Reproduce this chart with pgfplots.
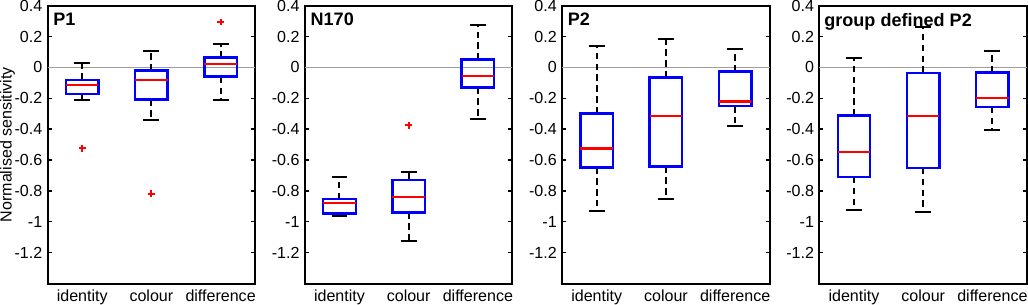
\documentclass[border=0pt]{standalone}
\usepackage{fontspec}
\setmainfont{Liberation Sans}
\usepackage{pgfplots}
\pgfplotsset{compat=1.18}
\usepgfplotslibrary{statistics}

\tikzset{ptitle/.style={anchor=north west, inner sep=0pt, font=\fontsize{9}{10}\bfseries\selectfont}}
\pgfplotsset{
  panel/.style={
    scale only axis, width=103.5pt, height=138.5pt,
    boxplot/draw direction=y,
    xmin=0.5, xmax=3.5, ymin=-1.4, ymax=0.4,
    xtick={1,2,3}, xticklabels={identity,colour,difference},
    ytick={-1.2,-1,-0.8,-0.6,-0.4,-0.2,0,0.2,0.4},
    yticklabels={-1.2,-1,-0.8,-0.6,-0.4,-0.2,0,0.2,0.4},
    tick align=inside, major tick length=2pt,
    x tick style={draw=none}, y tick style={black, line width=0.7pt},
    axis line style={line width=1pt},
    ticklabel style={font=\fontsize{8}{9}\selectfont},
    label style={font=\fontsize{8}{9}\selectfont},
    yticklabel style={inner sep=0pt, xshift=-2.5pt},
    xticklabel style={inner sep=0pt, yshift=-3pt},
    clip=false,
  },
  bx/.style={
    solid, black, mark=+,
    mark options={red, solid, line width=1pt, mark size=1.7pt},
    boxplot/every box/.style={draw=blue, line width=1.2pt},
    boxplot/every median/.style={draw=red, line width=1.2pt},
    boxplot/draw/lower whisker/.code={%
      \draw[black, line width=1pt, dash pattern=on 3.2pt off 2.2pt]
        (boxplot box cs:\pgfplotsboxplotvalue{lower quartile},0.5)
        -- (boxplot box cs:\pgfplotsboxplotvalue{lower whisker},0.5);
      \draw[black, line width=1pt, solid]
        (boxplot whisker cs:\pgfplotsboxplotvalue{lower whisker},0)
        -- (boxplot whisker cs:\pgfplotsboxplotvalue{lower whisker},1);
    },
    boxplot/draw/upper whisker/.code={%
      \draw[black, line width=1pt, dash pattern=on 3.2pt off 2.2pt]
        (boxplot box cs:\pgfplotsboxplotvalue{upper quartile},0.5)
        -- (boxplot box cs:\pgfplotsboxplotvalue{upper whisker},0.5);
      \draw[black, line width=1pt, solid]
        (boxplot whisker cs:\pgfplotsboxplotvalue{upper whisker},0)
        -- (boxplot whisker cs:\pgfplotsboxplotvalue{upper whisker},1);
    },
  },
  zeroline/.style={gray!75, line width=0.6pt, forget plot},
}

\begin{document}
\begin{tikzpicture}
% ---------------- P1 ----------------
\begin{axis}[panel, at={(0pt,0pt)}, ylabel={Normalised sensitivity},
  ylabel style={at={(rel axis cs:0,0.5)}, anchor=center, inner sep=0pt, yshift=20pt}]
\addplot[zeroline] coordinates {(0.5,0) (3.5,0)};
\addplot[bx, boxplot prepared={draw position=1, box extend=0.47, whisker extend=0.23,
  lower whisker=-0.214, lower quartile=-0.173, median=-0.115, upper quartile=-0.080, upper whisker=0.026}]
  coordinates {(1,-0.523)};
\addplot[bx, boxplot prepared={draw position=2, box extend=0.47, whisker extend=0.23,
  lower whisker=-0.339, lower quartile=-0.208, median=-0.082, upper quartile=-0.019, upper whisker=0.108}]
  coordinates {(2,-0.819)};
\addplot[bx, boxplot prepared={draw position=3, box extend=0.47, whisker extend=0.23,
  lower whisker=-0.208, lower quartile=-0.060, median=0.022, upper quartile=0.065, upper whisker=0.149}]
  coordinates {(3,0.294)};
\node[ptitle] at (rel axis cs:0.026,0.975) {P1};
\end{axis}
% ---------------- N170 ----------------
\begin{axis}[panel, at={(128.25pt,0pt)}]
\addplot[zeroline] coordinates {(0.5,0) (3.5,0)};
\addplot[bx, boxplot prepared={draw position=1, box extend=0.47, whisker extend=0.23,
  lower whisker=-0.962, lower quartile=-0.947, median=-0.880, upper quartile=-0.852, upper whisker=-0.707}]
  coordinates {};
\addplot[bx, boxplot prepared={draw position=2, box extend=0.47, whisker extend=0.23,
  lower whisker=-1.126, lower quartile=-0.940, median=-0.841, upper quartile=-0.728, upper whisker=-0.675}]
  coordinates {(2,-0.374)};
\addplot[bx, boxplot prepared={draw position=3, box extend=0.47, whisker extend=0.23,
  lower whisker=-0.335, lower quartile=-0.130, median=-0.056, upper quartile=0.050, upper whisker=0.272}]
  coordinates {};
\node[ptitle] at (rel axis cs:0.026,0.975) {N170};
\end{axis}
% ---------------- P2 ----------------
\begin{axis}[panel, at={(256.5pt,0pt)}]
\addplot[zeroline] coordinates {(0.5,0) (3.5,0)};
\addplot[bx, boxplot prepared={draw position=1, box extend=0.47, whisker extend=0.23,
  lower whisker=-0.929, lower quartile=-0.648, median=-0.525, upper quartile=-0.298, upper whisker=0.138}]
  coordinates {};
\addplot[bx, boxplot prepared={draw position=2, box extend=0.47, whisker extend=0.23,
  lower whisker=-0.851, lower quartile=-0.642, median=-0.313, upper quartile=-0.065, upper whisker=0.184}]
  coordinates {};
\addplot[bx, boxplot prepared={draw position=3, box extend=0.47, whisker extend=0.23,
  lower whisker=-0.378, lower quartile=-0.251, median=-0.222, upper quartile=-0.026, upper whisker=0.121}]
  coordinates {};
\node[ptitle] at (rel axis cs:0.026,0.975) {P2};
\end{axis}
% ---------------- group defined P2 ----------------
\begin{axis}[panel, at={(384.75pt,0pt)}]
\addplot[zeroline] coordinates {(0.5,0) (3.5,0)};
\addplot[bx, boxplot prepared={draw position=1, box extend=0.47, whisker extend=0.23,
  lower whisker=-0.927, lower quartile=-0.709, median=-0.549, upper quartile=-0.311, upper whisker=0.058}]
  coordinates {};
\addplot[bx, boxplot prepared={draw position=2, box extend=0.47, whisker extend=0.23,
  lower whisker=-0.936, lower quartile=-0.651, median=-0.313, upper quartile=-0.035, upper whisker=0.259}]
  coordinates {};
\addplot[bx, boxplot prepared={draw position=3, box extend=0.47, whisker extend=0.23,
  lower whisker=-0.404, lower quartile=-0.255, median=-0.199, upper quartile=-0.032, upper whisker=0.104}]
  coordinates {};
\node[ptitle] at (rel axis cs:0.022,0.975) {group defined P2};
\end{axis}
\end{tikzpicture}
\end{document}
